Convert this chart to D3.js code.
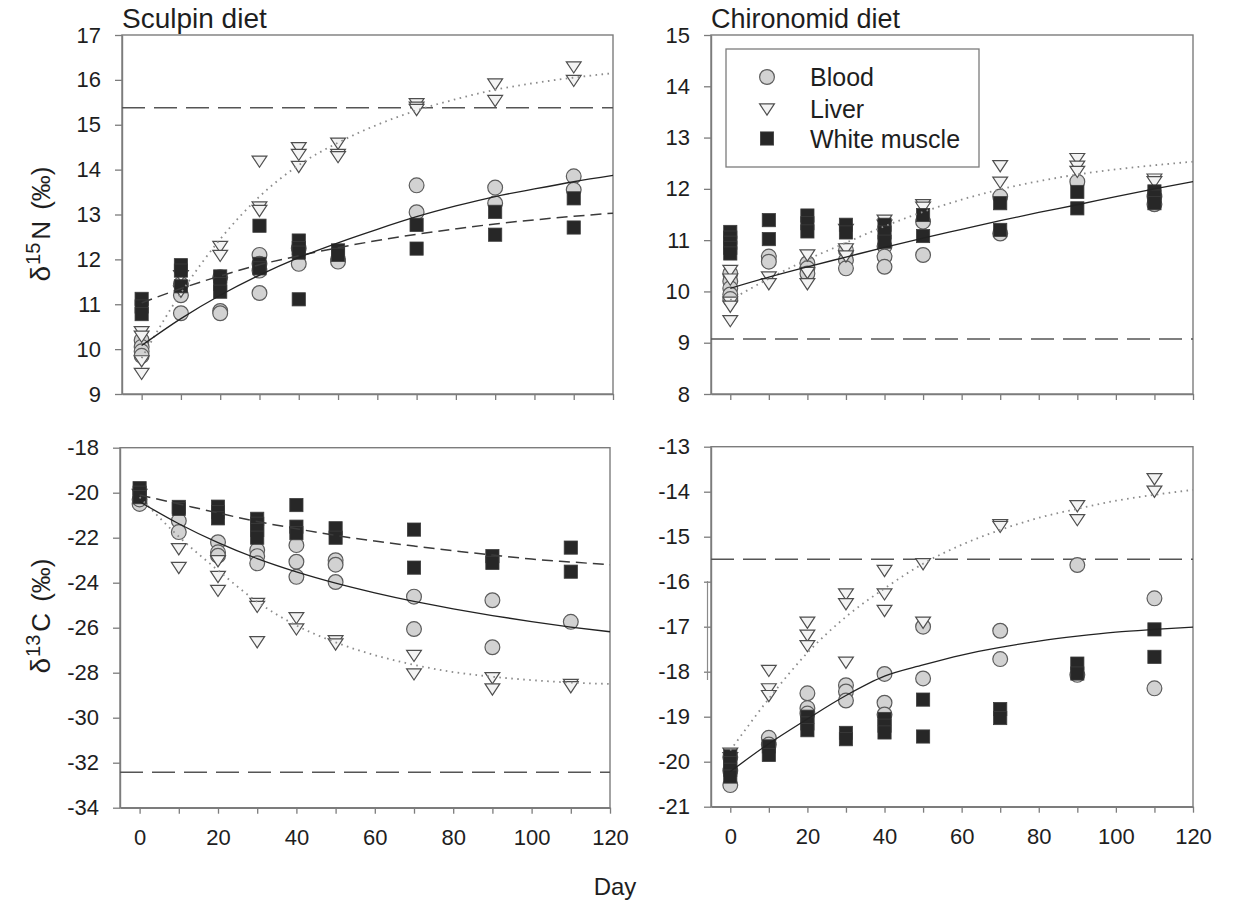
<!DOCTYPE html>
<html>
<head>
<meta charset="utf-8">
<script src="https://cdn.jsdelivr.net/npm/d3@7"></script>
<style>
  body { margin: 0; background: #fff; }
  svg text { font-family: "Liberation Sans", Arial, Helvetica, sans-serif; fill: #1e1e1e; }
</style>
</head>
<body>
<svg id="chart" width="1235" height="907"></svg>
<script>
// Sampling days and the day grid used for the fitted curves
const sampleDays = [0, 10, 20, 30, 40, 50, 70, 90, 110];
const fitDays = [0, 10, 20, 30, 40, 50, 60, 70, 80, 90, 100, 110, 120];
const xTicks = [0, 10, 20, 30, 40, 50, 60, 70, 80, 90, 100, 110, 120];
const xTickLabels = [0, 20, 40, 60, 80, 100, 120];

// Sculpin diet, d15N (replicates per sampling day)
const scN_blood = [[10.2, 10.05, 9.95, 9.85], [11.45, 11.2, 10.8], [11.6, 10.85, 10.8], [12.1, 11.9, 11.75, 11.25], [12.25, 11.9], [12.0, 11.95], [13.65, 13.05], [13.6, 13.25], [13.85, 13.55]];
const scN_liver = [[10.4, 10.3, 9.75, 9.47], [11.65, 11.3], [12.3, 12.1], [14.2, 13.18, 13.1], [14.5, 14.35, 14.08], [14.6, 14.35, 14.3], [15.48, 15.4, 15.35], [15.92, 15.55], [16.3, 16.0]];
const scN_muscle = [[11.12, 10.95, 10.78], [11.87, 11.75, 11.4], [11.62, 11.45, 11.28], [12.75, 11.9, 11.8], [12.42, 12.25, 12.15, 11.11], [12.2, 12.1], [12.77, 12.24], [13.06, 12.55], [13.36, 12.71]];
const scN_bloodFit = [10.08, 10.68, 11.2, 11.65, 12.04, 12.37, 12.67, 12.95, 13.19, 13.4, 13.57, 13.73, 13.87];
const scN_liverFit = [9.8, 11.25, 12.45, 13.4, 14.1, 14.6, 15.0, 15.32, 15.57, 15.78, 15.93, 16.05, 16.15];
const scN_muscleFit = [11.03, 11.35, 11.63, 11.88, 12.08, 12.26, 12.42, 12.56, 12.68, 12.79, 12.88, 12.96, 13.03];
const scN_diet = 15.38;
const scN_yTicks = [9, 10, 11, 12, 13, 14, 15, 16, 17];

// Chironomid diet, d15N
const chN_blood = [[10.35, 10.2, 10.06, 9.94, 9.85], [10.68, 10.58], [10.55, 10.45, 10.35], [10.8, 10.61, 10.45], [10.88, 10.68, 10.48], [11.36, 10.71], [11.85, 11.13], [12.14], [11.85, 11.7]];
const chN_liver = [[10.42, 10.25, 9.8, 9.72, 9.44], [10.29, 10.16], [10.72, 10.38, 10.16], [11.22, 10.84, 10.7], [11.4, 11.3], [11.7, 11.65], [12.46, 12.14], [12.6, 12.45, 12.35], [12.2, 12.15]];
const chN_muscle = [[11.16, 11.05, 10.95, 10.85, 10.74], [11.39, 11.02], [11.48, 11.33, 11.17], [11.3, 11.15], [11.3, 11.15, 10.97], [11.49, 11.08], [11.72, 11.2], [11.94, 11.62], [11.95, 11.85, 11.72]];
const chN_bloodFit = [10.06, 10.28, 10.48, 10.67, 10.86, 11.04, 11.21, 11.38, 11.54, 11.69, 11.85, 12.0, 12.14];
const chN_liverFit = [9.83, 10.25, 10.62, 10.95, 11.27, 11.55, 11.79, 11.99, 12.15, 12.28, 12.38, 12.46, 12.53];
const chN_diet = 9.07;
const chN_yTicks = [8, 9, 10, 11, 12, 13, 14, 15];

// Sculpin diet, d13C
const scC_blood = [[-20.5, -20.3], [-21.25, -21.75], [-22.2, -22.65, -22.8], [-22.55, -22.82, -23.14], [-22.33, -23.07, -23.74], [-23.0, -23.2, -23.97], [-24.62, -26.06], [-24.78, -26.87], [-25.74]];
const scC_liver = [[-20.05], [-22.47, -23.3], [-23.0, -23.7, -24.32], [-24.9, -25.03, -26.6], [-25.53, -26.03], [-26.56, -26.7], [-27.21, -28.03], [-28.2, -28.7], [-28.5, -28.6]];
const scC_muscle = [[-19.8, -20.0, -20.2], [-20.63, -20.72], [-20.62, -20.86, -21.14], [-21.16, -21.38, -21.66, -22.0], [-20.55, -21.51, -21.8], [-21.58, -22.0], [-21.64, -23.33], [-22.82, -23.12], [-22.44, -23.51]];
const scC_bloodFit = [-20.4, -21.38, -22.22, -22.93, -23.52, -24.02, -24.45, -24.83, -25.16, -25.46, -25.73, -25.97, -26.18];
const scC_liverFit = [-20.2, -21.95, -23.45, -24.85, -25.9, -26.65, -27.22, -27.65, -27.97, -28.18, -28.33, -28.44, -28.5];
const scC_muscleFit = [-20.1, -20.5, -20.9, -21.28, -21.6, -21.9, -22.15, -22.37, -22.58, -22.77, -22.95, -23.08, -23.2];
const scC_diet = -32.42;
const scC_yTicks = [-34, -32, -30, -28, -26, -24, -22, -20, -18];

// Chironomid diet, d13C
const chC_blood = [[-20.52, -20.2, -19.9], [-19.47, -19.62], [-18.48, -18.81, -18.93], [-18.3, -18.44, -18.64], [-18.05, -18.69, -18.95], [-17.0, -18.15], [-17.09, -17.72], [-15.63, -18.07], [-16.37, -18.37]];
const chC_liver = [[-19.8, -19.9], [-17.96, -18.37, -18.52], [-16.89, -17.18, -17.41], [-16.26, -16.48, -17.78], [-15.74, -16.26, -16.63], [-15.59, -16.89], [-14.72, -14.76], [-14.3, -14.61], [-13.7, -13.98]];
const chC_muscle = [[-19.88, -20.03, -20.18, -20.33], [-19.66, -19.85], [-19.0, -19.15, -19.3], [-19.36, -19.5], [-19.05, -19.2, -19.35], [-18.62, -19.44], [-18.83, -19.03], [-17.82, -18.04], [-17.06, -17.67]];
const chC_bloodFit = [-20.22, -19.6, -19.05, -18.53, -18.1, -17.85, -17.63, -17.46, -17.32, -17.21, -17.12, -17.06, -17.01];
const chC_liverFit = [-19.75, -18.6, -17.58, -16.78, -16.15, -15.6, -15.18, -14.85, -14.58, -14.38, -14.2, -14.07, -13.96];
const chC_diet = -15.5;
const chC_yTicks = [-21, -20, -19, -18, -17, -16, -15, -14, -13];

const tissues = ["Blood", "Liver", "White muscle"];

const svg = d3.select("#chart");
const AXIS = "#7c7c7c";

// marker drawing helpers
function drawMarker(g, kind, cx, cy) {
  if (kind === "Blood") {
    g.append("circle").attr("cx", cx).attr("cy", cy).attr("r", 7.4)
      .attr("fill", "#d2d2d2").attr("stroke", "#5c5c5c").attr("stroke-width", 1.2);
  } else if (kind === "Liver") {
    g.append("path")
      .attr("d", "M-7.4,-4.6L7.4,-4.6L0,6.6Z")
      .attr("transform", `translate(${cx},${cy})`)
      .attr("fill", "#f3f3f3").attr("stroke", "#4e4e4e").attr("stroke-width", 1.2);
  } else {
    g.append("rect").attr("x", cx - 6.6).attr("y", cy - 6.6).attr("width", 13.2).attr("height", 13.2)
      .attr("fill", "#272727").attr("stroke", "#3c3c3c").attr("stroke-width", 0.8);
  }
}

const fitStyle = {
  "Blood": { stroke: "#222", width: 1.3, dash: null },
  "Liver": { stroke: "#8c8c8c", width: 1.8, dash: "1.6,4.4" },
  "White muscle": { stroke: "#3a3a3a", width: 1.5, dash: "11,6" }
};

function drawPanel(p) {
  const x = d3.scaleLinear().domain([-5, 120]).range([p.left, p.right]);
  const y = d3.scaleLinear().domain(p.yDomain).range([p.bottom, p.top]);
  const g = svg.append("g");

  // frame
  g.append("rect").attr("x", p.left).attr("y", p.top)
    .attr("width", p.right - p.left).attr("height", p.bottom - p.top)
    .attr("fill", "none").attr("stroke", AXIS).attr("stroke-width", 1.4);

  // y axis
  const ya = g.append("g").attr("transform", `translate(${p.left},0)`)
    .call(d3.axisLeft(y).tickValues(p.yTicks).tickSize(7).tickSizeOuter(0).tickPadding(14)
      .tickFormat(d => String(d)));
  ya.select(".domain").attr("stroke", AXIS).attr("stroke-width", 1.4);
  ya.selectAll(".tick line").attr("stroke", AXIS).attr("stroke-width", 1.3);
  ya.selectAll(".tick text").attr("font-size", 22).attr("fill", "#1e1e1e")
    .attr("font-family", '"Liberation Sans", Arial, sans-serif');

  // x axis
  const xa = g.append("g").attr("transform", `translate(0,${p.bottom})`)
    .call(d3.axisBottom(x).tickValues(xTicks).tickSize(6).tickSizeOuter(0).tickPadding(16)
      .tickFormat(d => (p.xLabels && xTickLabels.includes(d)) ? String(d) : ""));
  xa.select(".domain").attr("stroke", AXIS).attr("stroke-width", 1.4);
  xa.selectAll(".tick line").attr("stroke", AXIS).attr("stroke-width", 1.3);
  xa.selectAll(".tick text").attr("font-size", 22).attr("fill", "#1e1e1e")
    .attr("font-family", '"Liberation Sans", Arial, sans-serif');

  // diet reference line
  g.append("line").attr("x1", p.left).attr("x2", p.right)
    .attr("y1", y(p.diet)).attr("y2", y(p.diet))
    .attr("stroke", "#555").attr("stroke-width", 1.5).attr("stroke-dasharray", "23,9");

  // replicate markers
  p.series.forEach(s => {
    const mg = g.append("g");
    s.values.forEach((reps, i) => {
      reps.forEach(v => drawMarker(mg, s.tissue, x(sampleDays[i]), y(v)));
    });
  });

  // fitted curves
  const line = d3.line().x((d, i) => x(fitDays[i])).y(d => y(d)).curve(d3.curveMonotoneX);
  p.fits.forEach(f => {
    const st = fitStyle[f.tissue];
    g.append("path").attr("d", line(f.values)).attr("fill", "none")
      .attr("stroke", st.stroke).attr("stroke-width", st.width)
      .attr("stroke-dasharray", st.dash);
  });
  return { x, y, g };
}

drawPanel({
  left: 122, right: 613, top: 35, bottom: 394, yDomain: [9, 17], yTicks: scN_yTicks, xLabels: false,
  diet: scN_diet,
  series: [{ tissue: "Blood", values: scN_blood }, { tissue: "Liver", values: scN_liver }, { tissue: "White muscle", values: scN_muscle }],
  fits: [{ tissue: "Liver", values: scN_liverFit }, { tissue: "White muscle", values: scN_muscleFit }, { tissue: "Blood", values: scN_bloodFit }]
});

drawPanel({
  left: 711, right: 1193, top: 35, bottom: 394, yDomain: [8, 15], yTicks: chN_yTicks, xLabels: false,
  diet: chN_diet,
  series: [{ tissue: "Blood", values: chN_blood }, { tissue: "Liver", values: chN_liver }, { tissue: "White muscle", values: chN_muscle }],
  fits: [{ tissue: "Liver", values: chN_liverFit }, { tissue: "Blood", values: chN_bloodFit }]
});

drawPanel({
  left: 120, right: 610, top: 447.7, bottom: 807.7, yDomain: [-34, -18], yTicks: scC_yTicks, xLabels: true,
  diet: scC_diet,
  series: [{ tissue: "Blood", values: scC_blood }, { tissue: "Liver", values: scC_liver }, { tissue: "White muscle", values: scC_muscle }],
  fits: [{ tissue: "Liver", values: scC_liverFit }, { tissue: "White muscle", values: scC_muscleFit }, { tissue: "Blood", values: scC_bloodFit }]
});

drawPanel({
  left: 711, right: 1193, top: 446.7, bottom: 806.7, yDomain: [-21, -13], yTicks: chC_yTicks, xLabels: true,
  diet: chC_diet,
  series: [{ tissue: "Blood", values: chC_blood }, { tissue: "Liver", values: chC_liver }, { tissue: "White muscle", values: chC_muscle }],
  fits: [{ tissue: "Liver", values: chC_liverFit }, { tissue: "Blood", values: chC_bloodFit }]
});

// short bracket line beside the lower-right y axis
svg.append("line").attr("x1", 707.5).attr("x2", 707.5).attr("y1", 581).attr("y2", 680)
  .attr("stroke", "#8a8a8a").attr("stroke-width", 1.2);

// panel titles
svg.append("text").attr("x", 122).attr("y", 28).attr("font-size", 28).text("Sculpin diet");
svg.append("text").attr("x", 711).attr("y", 28).attr("font-size", 27).text("Chironomid diet");

// y-axis titles: delta, raised isotope mass number, element, per-mil unit
function yTitle(cx, cy, iso, el) {
  const t = svg.append("text").attr("transform", `translate(${cx},${cy}) rotate(-90)`)
    .attr("text-anchor", "middle").attr("font-size", 26);
  t.append("tspan").attr("font-size", 28).text("δ");
  t.append("tspan").attr("font-size", 20).attr("dx", 1).attr("dy", -10).text(iso);
  t.append("tspan").attr("dx", 3).attr("dy", 10).text(el);
  t.append("tspan").attr("dx", 11).text("(‰)");
}
yTitle(50, 224, "15", "N");
yTitle(50, 616, "13", "C");

// x-axis title
svg.append("text").attr("x", 615).attr("y", 895).attr("text-anchor", "middle").attr("font-size", 24).text("Day");

// legend
const lg = svg.append("g");
lg.append("rect").attr("x", 726).attr("y", 49).attr("width", 253).attr("height", 118)
  .attr("fill", "#fff").attr("stroke", AXIS).attr("stroke-width", 1.3);
const legendRows = [77, 108.5, 138.5];
tissues.forEach((t, i) => {
  drawMarker(lg, t, 767, legendRows[i]);
  lg.append("text").attr("x", 810).attr("y", legendRows[i]).attr("dy", "0.36em")
    .attr("font-size", 25).text(t);
});
</script>
</body>
</html>
